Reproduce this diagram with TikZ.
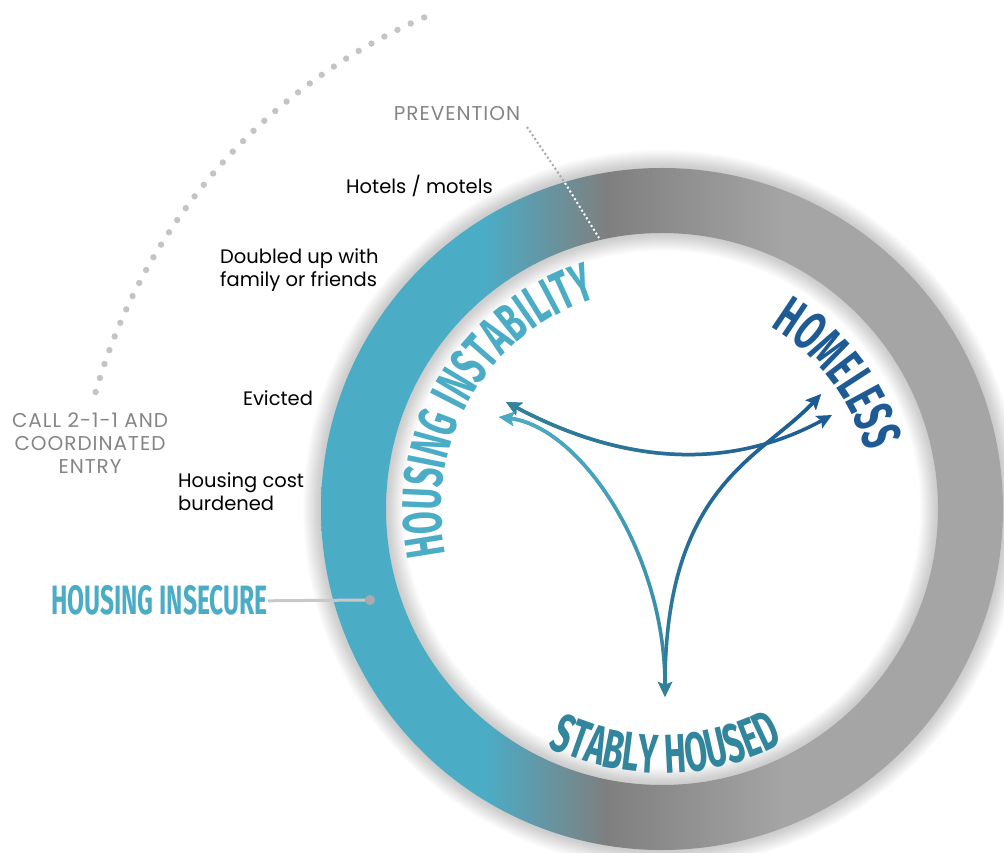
\documentclass[tikz,border=0pt]{standalone}
\usepackage{fontspec}
\setmainfont{Poppins}
\newfontfamily\capsfont[LetterSpace=5]{Poppins}
\newfontfamily\bebas[FakeStretch=0.6]{Fira Sans}
\usetikzlibrary{calc, arrows.meta, decorations.text, fadings}

\definecolor{ringteal}{HTML}{4BACC6}
\definecolor{ringdark}{HTML}{7F7F7F}
\definecolor{ringlight}{HTML}{A5A5A5}
\definecolor{instab}{HTML}{4BACC6}
\definecolor{stably}{HTML}{31859C}
\definecolor{homeless}{HTML}{1E5A94}
\definecolor{labelgray}{HTML}{858585}
\definecolor{dotgray}{HTML}{C4C4C4}
\definecolor{leadgray}{HTML}{C8C8C8}

\pgfdeclarehorizontalshading{ringshade}{100bp}{color(0bp)=(ringteal); color(37bp)=(ringteal); color(46bp)=(ringdark); color(59bp)=(ringlight); color(100bp)=(ringlight)}
\tikzfading[name=keepleft, left color=transparent!0, right color=transparent!100]
\tikzfading[name=keeptop, top color=transparent!0, bottom color=transparent!100]

\newcommand{\stagefont}{\bebas\bfseries\fontsize{55}{55}\selectfont}

\tikzset{
	flow/.style={line width=3.5pt, {Stealth[length=15pt,width=14pt,inset=3pt]}-{Stealth[length=15pt,width=14pt,inset=3pt]}},
	item/.style={font=\fontsize{19.5}{23}\selectfont, text=black, align=left, inner sep=0pt},
	entry/.style={font=\capsfont\fontsize{20}{23}\selectfont, text=labelgray, align=center, inner sep=0pt},
}

\begin{document}
\begin{tikzpicture}[x=1pt, y=1pt]
	\useasboundingbox (0,0) rectangle (1004,852);
	\clip (0,0) rectangle (1004,852);

	\coordinate (C)      at (662, 343);
	\coordinate (arcc)   at (657, 299);
	\coordinate (apexTL) at (506, 450);
	\coordinate (apexL)  at (499, 435);
	\coordinate (apexTR) at (821, 458);
	\coordinate (apexR)  at (832, 437);
	\coordinate (apexB)  at (665, 155);
	\coordinate (prevA)  at (527, 725);
	\coordinate (prevB)  at (565, 669);
	\coordinate (prevC)  at (599, 614);
	\coordinate (pin)    at (370, 252);

	\foreach \i in {0,...,35}
		\fill[dotgray] ($(arcc)+({113.5+\i*50.5/35}:584)$) circle (3.2);

	\foreach \w in {2,4,...,36} {
		\draw[black, opacity=0.012, line width=\w pt] (C) circle (341);
		\draw[black, opacity=0.012, line width=\w pt] (C) circle (276);
	}
	\shade[shading=ringshade, even odd rule] (C) circle (341) (C) circle (276);

	\node[entry] (prevention) at (457, 738) {PREVENTION};
	\draw[labelgray!70, line width=2pt, dash pattern=on 2pt off 2.5pt] (prevA) -- (prevB);
	\draw[white, line width=2pt, dash pattern=on 2pt off 2.5pt] (prevB) -- (prevC);

	\node[item, anchor=center] (hotels) at (419.5, 666) {Hotels / motels};
	\node[item, anchor=west] (doubled) at (220, 582) {Doubled up with\\family or friends};
	\node[item, anchor=center] (evicted) at (278, 454) {Evicted};
	\node[item, anchor=west] (cost) at (178, 360) {Housing cost\\burdened};
	\node[entry] (call) at (90, 409) {CALL 2-1-1 AND\\COORDINATED\\ENTRY};

	\node[font=\bebas\bfseries\fontsize{41}{41}\selectfont, text=instab, inner sep=0pt, anchor=base east] (insecure) at (268, 237) {HOUSING INSECURE};
	\draw[leadgray, line width=3pt] (insecure.east) -- (pin);
	\fill[leadgray!85!black] (pin) circle (5);

	\path[decorate, decoration={text along path, text align=center, text color=instab, text={|\stagefont|HOUSING INSTABILITY}}] ($(C)+(204.5:221)$) arc[start angle=204.5, end angle=94.5, radius=221];
	\path[decorate, decoration={text along path, text align=center, text color=homeless, text={|\stagefont|HOMELESS}}] ($(C)+(80:212)$) arc[start angle=80, end angle=-5, radius=212];
	\path[decorate, decoration={text along path, text align=center, text color=stably, text={|\stagefont|STABLY HOUSED}}] ($(C)+(230:264)$) arc[start angle=230, end angle=312, radius=264];

	\draw[flow, homeless] (apexTL) .. controls +(124,-66) and +(-97,-53) .. (apexR);
	\draw[flow, stably, path fading=keepleft] (apexTL) .. controls +(124,-66) and +(-97,-53) .. (apexR);
	\draw[flow, stably] (apexL) .. controls +(81,-10) and +(0,145) .. (apexB);
	\draw[flow, instab, path fading=keeptop] (apexL) .. controls +(81,-10) and +(0,145) .. (apexB);
	\draw[flow, stably] (apexB) .. controls +(0,212) and +(-60,-64) .. (apexTR);
	\draw[flow, homeless, path fading=keeptop] (apexB) .. controls +(0,212) and +(-60,-64) .. (apexTR);
\end{tikzpicture}
\end{document}
